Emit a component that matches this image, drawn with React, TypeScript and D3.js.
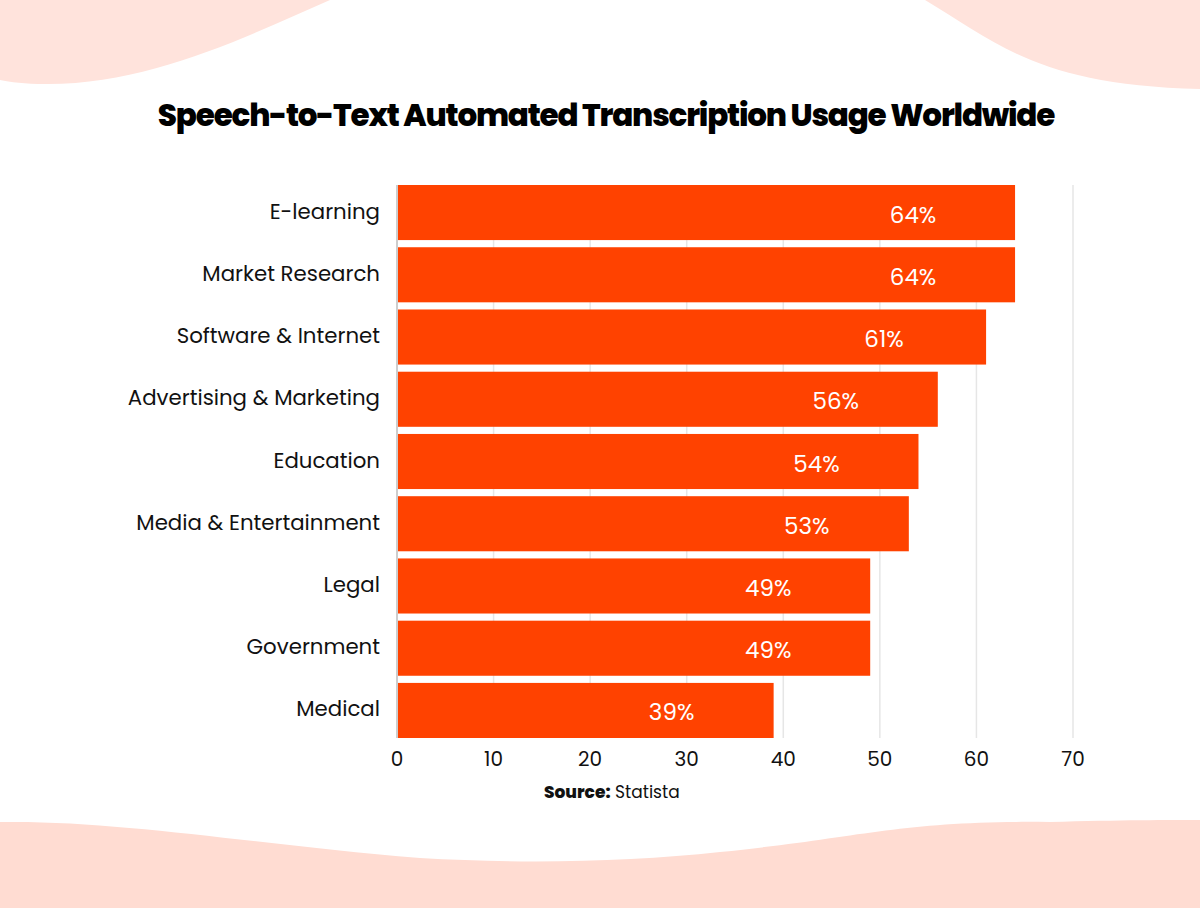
import { useMemo } from "react";
import * as d3 from "d3";

const categories = [
  "E-learning",
  "Market Research",
  "Software & Internet",
  "Advertising & Marketing",
  "Education",
  "Media & Entertainment",
  "Legal",
  "Government",
  "Medical",
];
const values = [64, 64, 61, 56, 54, 53, 49, 49, 39];
const xTicks = [0, 10, 20, 30, 40, 50, 60, 70];

const W = 1200;
const H = 908;
const margin = { top: 185, right: 127, bottom: 170, left: 397 };

const font = "Poppins, Inter, 'Open Sans', sans-serif";

export default function App() {
  const x = useMemo(
    () => d3.scaleLinear().domain([0, 70]).range([margin.left, W - margin.right]),
    []
  );
  const y = useMemo(
    () =>
      d3
        .scaleBand()
        .domain(categories)
        .range([margin.top, H - margin.bottom])
        .paddingInner(0.115)
        .paddingOuter(0),
    []
  );

  return (
    <svg
      width={W}
      height={H}
      style={{ position: "absolute", left: 0, top: 0, background: "#fff" }}
    >
      {/* decorative blobs */}
      <path d="M0,0 L330,0 C250,35 150,85 45,84 C25,84 10,82 0,80 Z" fill="#FFE3DC" />
      <path d="M925,0 C1000,45 1040,85 1200,89 L1200,0 Z" fill="#FFE3DC" />
      <path
        d="M0,822 C120,820 260,845 420,858 C520,864 630,862 720,852 C860,838 900,820 1050,822 C1120,820 1170,820 1200,820 L1200,908 L0,908 Z"
        fill="#FFDCD2"
      />

      <text
        x={606}
        y={126}
        textAnchor="middle"
        fontFamily={font}
        fontWeight={800}
        fontSize={31}
        letterSpacing={-1.2}
        fill="#000"
      >
        Speech-to-Text Automated Transcription Usage Worldwide
      </text>

      {/* grid */}
      {xTicks.slice(1).map((t) => (
        <line
          key={t}
          x1={x(t)}
          x2={x(t)}
          y1={margin.top}
          y2={H - margin.bottom}
          stroke="#e6e6e6"
          strokeWidth={1.5}
        />
      ))}
      <line
        x1={x(0)}
        x2={x(0)}
        y1={margin.top}
        y2={H - margin.bottom}
        stroke="#bdbdbd"
        strokeWidth={1.5}
      />

      {categories.map((c, i) => {
        const y0 = y(c)!;
        const bh = y.bandwidth();
        return (
          <g key={c}>
            <rect
              x={x(0) + 1}
              y={y0}
              width={x(values[i]) - x(0) - 1}
              height={bh}
              fill="#FF4200"
            />
            <text
              x={380}
              y={y0 + bh / 2 + 6}
              textAnchor="end"
              fontFamily={font}
              fontSize={21.3}
              fill="#111"
            >
              {c}
            </text>
            <text
              x={x(values[i]) - 102}
              y={y0 + bh / 2 + 10}
              textAnchor="middle"
              fontFamily={font}
              fontSize={23}
              fill="#fff"
            >
              {values[i]}%
            </text>
          </g>
        );
      })}

      {xTicks.map((t) => (
        <text
          key={t}
          x={x(t)}
          y={766}
          textAnchor="middle"
          fontFamily={font}
          fontSize={20}
          fill="#111"
        >
          {t}
        </text>
      ))}

      <text x={544} y={798} fontFamily={font} fontSize={17} fill="#111">
        <tspan fontWeight={800}>Source:</tspan>
        <tspan> Statista</tspan>
      </text>
    </svg>
  );
}
